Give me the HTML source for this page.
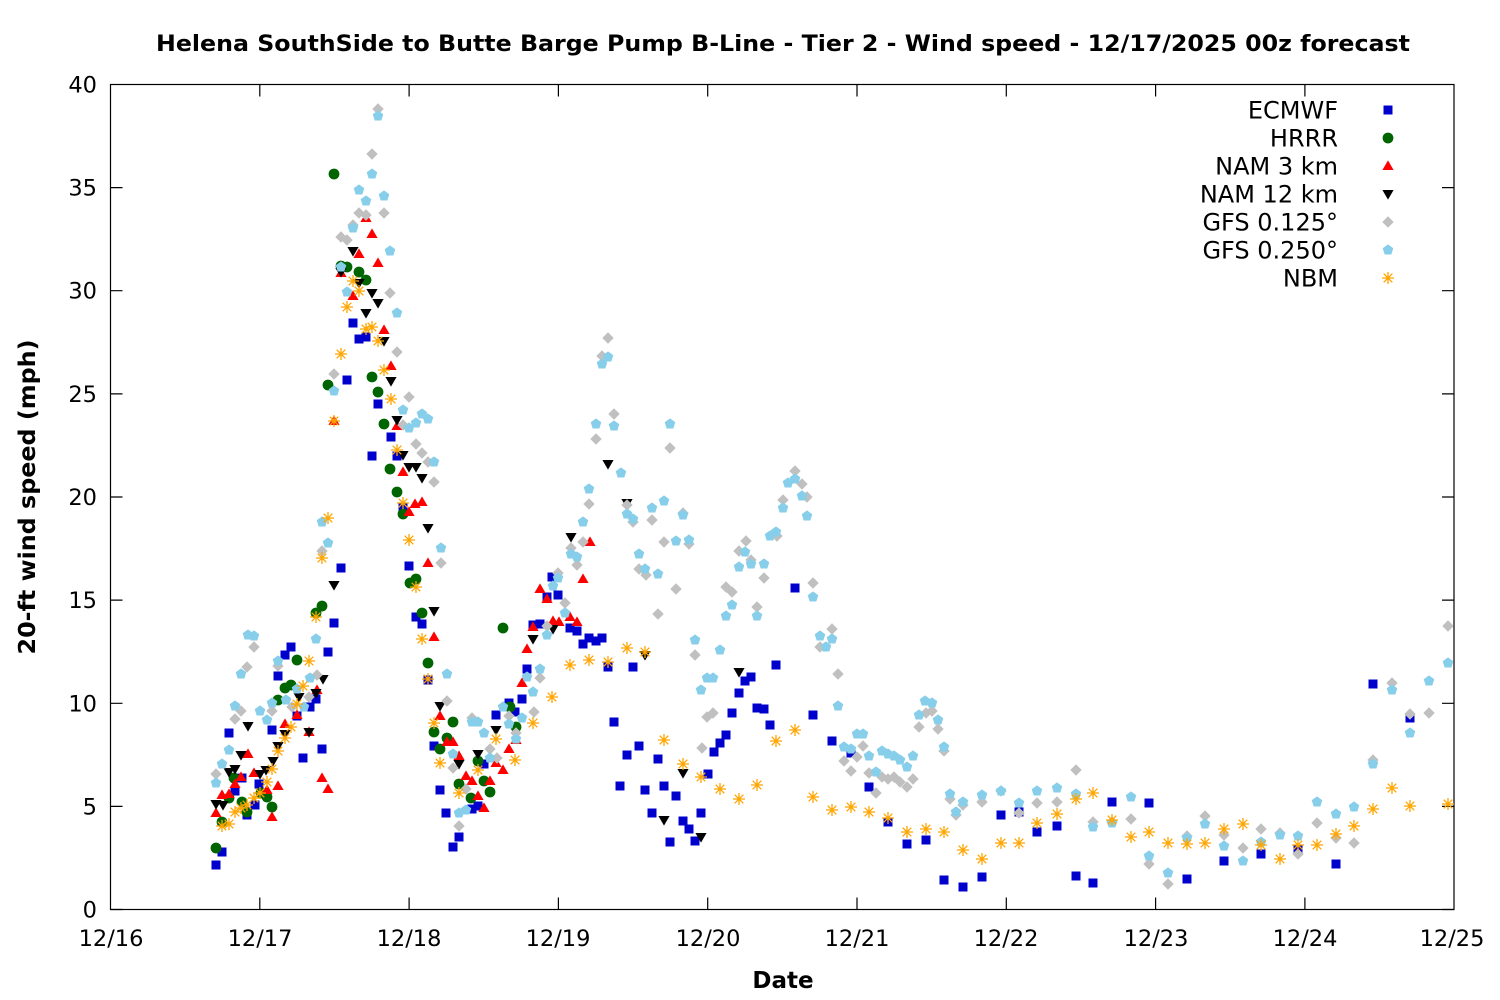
<!DOCTYPE html>
<html>
<head>
<meta charset="utf-8">
<style>
html,body{margin:0;padding:0;background:#fff;}
svg{display:block;}
text{font-family:"DejaVu Sans","Liberation Sans",sans-serif;fill:#000;}
</style>
</head>
<body>
<svg xmlns="http://www.w3.org/2000/svg" xmlns:xlink="http://www.w3.org/1999/xlink" width="1500" height="1000" viewBox="0 0 1500 1000">
<defs>
<rect id="b" x="-4.5" y="-4.5" width="9" height="9" fill="#0000cc"/>
<circle id="g" r="5.4" fill="#006400"/>
<path id="r" d="M0,-5.6 L5.6,4 L-5.6,4Z" fill="#ff0000"/>
<path id="k" d="M0,5.6 L5.6,-4 L-5.6,-4Z" fill="#000000"/>
<path id="d" d="M0,-5.7 L5.7,0 L0,5.7 L-5.7,0Z" fill="#c0c0c0"/>
<path id="p" d="M0,-5.6 L5.3,-1.7 L3.3,4.5 L-3.3,4.5 L-5.3,-1.7Z" fill="#87ceeb"/>
<g id="o" stroke="#ffa500" stroke-width="1.3" fill="none"><path d="M-6,0H6M0,-6V6M-4.3,-4.3L4.3,4.3M-4.3,4.3L4.3,-4.3"/></g>
</defs>
<rect width="1500" height="1000" fill="#fff"/>

<text x="783" y="51" text-anchor="middle" font-weight="bold" font-size="22.5" textLength="1254" lengthAdjust="spacingAndGlyphs">Helena SouthSide to Butte Barge Pump B-Line - Tier 2 - Wind speed - 12/17/2025 00z forecast</text>

<g stroke="#000" stroke-width="1.2">
<rect x="110.5" y="84.5" width="1343.5" height="825" fill="none"/>
<path d="M110.5,909.5h12M1454,909.5h-12M110.5,806.4h12M1454,806.4h-12M110.5,703.3h12M1454,703.3h-12M110.5,600.1h12M1454,600.1h-12M110.5,497h12M1454,497h-12M110.5,393.9h12M1454,393.9h-12M110.5,290.7h12M1454,290.7h-12M110.5,187.6h12M1454,187.6h-12"/>
<path d="M259.8,909.5v-12M259.8,84.5v12M409.1,909.5v-12M409.1,84.5v12M558.4,909.5v-12M558.4,84.5v12M707.7,909.5v-12M707.7,84.5v12M857,909.5v-12M857,84.5v12M1006.3,909.5v-12M1006.3,84.5v12M1155.6,909.5v-12M1155.6,84.5v12M1304.9,909.5v-12M1304.9,84.5v12"/>
</g>

<g font-size="22.5" text-anchor="end">
<text x="97" y="917.5">0</text>
<text x="97" y="814.4">5</text>
<text x="97" y="711.3">10</text>
<text x="97" y="608.1">15</text>
<text x="97" y="505">20</text>
<text x="97" y="401.9">25</text>
<text x="97" y="298.7">30</text>
<text x="97" y="195.6">35</text>
<text x="97" y="92.5">40</text>
</g>
<g font-size="22.5" text-anchor="middle">
<text x="111" y="946">12/16</text>
<text x="260" y="946">12/17</text>
<text x="409" y="946">12/18</text>
<text x="558" y="946">12/19</text>
<text x="708" y="946">12/20</text>
<text x="857" y="946">12/21</text>
<text x="1006" y="946">12/22</text>
<text x="1156" y="946">12/23</text>
<text x="1305" y="946">12/24</text>
<text x="1452" y="946">12/25</text>
</g>
<text x="783" y="988" text-anchor="middle" font-weight="bold" font-size="23">Date</text>
<text transform="translate(35,497) rotate(-90)" text-anchor="middle" font-weight="bold" font-size="23" textLength="315" lengthAdjust="spacingAndGlyphs">20-ft wind speed (mph)</text>

<!-- ECMWF -->
<g>
<use href="#b" x="216" y="865"/><use href="#b" x="222" y="852"/><use href="#b" x="229" y="733"/><use href="#b" x="235" y="791"/><use href="#b" x="242" y="778"/><use href="#b" x="247" y="815"/><use href="#b" x="255" y="805"/><use href="#b" x="259" y="784"/><use href="#b" x="272" y="730"/><use href="#b" x="278" y="676"/><use href="#b" x="285" y="655"/><use href="#b" x="291" y="647"/><use href="#b" x="297" y="716"/><use href="#b" x="303" y="758"/><use href="#b" x="310" y="707"/><use href="#b" x="316" y="699"/><use href="#b" x="322" y="749"/><use href="#b" x="328" y="652"/><use href="#b" x="334" y="623"/><use href="#b" x="341" y="568"/><use href="#b" x="347" y="380"/><use href="#b" x="353" y="323"/><use href="#b" x="359" y="339"/><use href="#b" x="366" y="337"/><use href="#b" x="372" y="456"/><use href="#b" x="378" y="404"/><use href="#b" x="391" y="437"/><use href="#b" x="397" y="456"/><use href="#b" x="403" y="507"/><use href="#b" x="409" y="566"/><use href="#b" x="416" y="617"/><use href="#b" x="422" y="624"/><use href="#b" x="428" y="680"/><use href="#b" x="434" y="746"/><use href="#b" x="440" y="790"/><use href="#b" x="446" y="813"/><use href="#b" x="453" y="847"/><use href="#b" x="459" y="837"/><use href="#b" x="472" y="809"/><use href="#b" x="478" y="806"/><use href="#b" x="484" y="764"/><use href="#b" x="496" y="715"/><use href="#b" x="509" y="703"/><use href="#b" x="515" y="712"/><use href="#b" x="522" y="699"/><use href="#b" x="527" y="669"/><use href="#b" x="533" y="625"/><use href="#b" x="540" y="624"/><use href="#b" x="547" y="597"/><use href="#b" x="552" y="577"/><use href="#b" x="558" y="595"/><use href="#b" x="570" y="628"/><use href="#b" x="577" y="631"/><use href="#b" x="583" y="644"/><use href="#b" x="589" y="638"/><use href="#b" x="596" y="641"/><use href="#b" x="602" y="638"/><use href="#b" x="608" y="667"/><use href="#b" x="614" y="722"/><use href="#b" x="620" y="786"/><use href="#b" x="627" y="755"/><use href="#b" x="633" y="667"/><use href="#b" x="639" y="746"/><use href="#b" x="645" y="790"/><use href="#b" x="652" y="813"/><use href="#b" x="658" y="759"/><use href="#b" x="664" y="786"/><use href="#b" x="670" y="842"/><use href="#b" x="676" y="796"/><use href="#b" x="683" y="821"/><use href="#b" x="689" y="829"/><use href="#b" x="695" y="841"/><use href="#b" x="701" y="813"/><use href="#b" x="708" y="774"/><use href="#b" x="714" y="752"/><use href="#b" x="720" y="743"/><use href="#b" x="726" y="735"/><use href="#b" x="732" y="713"/><use href="#b" x="739" y="693"/><use href="#b" x="745" y="681"/><use href="#b" x="751" y="677"/><use href="#b" x="757" y="708"/><use href="#b" x="764" y="709"/><use href="#b" x="770" y="725"/><use href="#b" x="776" y="665"/><use href="#b" x="795" y="588"/><use href="#b" x="813" y="715"/><use href="#b" x="832" y="741"/><use href="#b" x="851" y="753"/><use href="#b" x="869" y="787"/><use href="#b" x="888" y="822"/><use href="#b" x="907" y="844"/><use href="#b" x="926" y="840"/><use href="#b" x="944" y="880"/><use href="#b" x="963" y="887"/><use href="#b" x="982" y="877"/><use href="#b" x="1001" y="815"/><use href="#b" x="1019" y="812"/><use href="#b" x="1037" y="832"/><use href="#b" x="1057" y="826"/><use href="#b" x="1076" y="876"/><use href="#b" x="1093" y="883"/><use href="#b" x="1112" y="802"/><use href="#b" x="1149" y="803"/><use href="#b" x="1187" y="879"/><use href="#b" x="1224" y="861"/><use href="#b" x="1261" y="854"/><use href="#b" x="1298" y="850"/><use href="#b" x="1336" y="864"/><use href="#b" x="1373" y="684"/><use href="#b" x="1410" y="718"/>
</g>
<!-- HRRR -->
<g>
<use href="#g" x="216" y="848"/><use href="#g" x="222" y="822"/><use href="#g" x="229" y="798"/><use href="#g" x="234" y="778"/><use href="#g" x="242" y="802"/><use href="#g" x="247" y="812"/><use href="#g" x="261" y="793"/><use href="#g" x="267" y="797"/><use href="#g" x="272" y="807"/><use href="#g" x="278" y="700"/><use href="#g" x="285" y="688"/><use href="#g" x="291" y="685"/><use href="#g" x="297" y="660"/><use href="#g" x="316" y="613"/><use href="#g" x="322" y="606"/><use href="#g" x="328" y="385"/><use href="#g" x="334" y="174"/><use href="#g" x="341" y="266"/><use href="#g" x="347" y="267"/><use href="#g" x="359" y="272"/><use href="#g" x="366" y="280"/><use href="#g" x="372" y="377"/><use href="#g" x="378" y="392"/><use href="#g" x="384" y="424"/><use href="#g" x="390" y="469"/><use href="#g" x="397" y="492"/><use href="#g" x="403" y="514"/><use href="#g" x="410" y="583"/><use href="#g" x="416" y="579"/><use href="#g" x="422" y="613"/><use href="#g" x="428" y="663"/><use href="#g" x="434" y="732"/><use href="#g" x="440" y="749"/><use href="#g" x="447" y="738"/><use href="#g" x="453" y="722"/><use href="#g" x="459" y="784"/><use href="#g" x="471" y="798"/><use href="#g" x="478" y="761"/><use href="#g" x="484" y="781"/><use href="#g" x="490" y="792"/><use href="#g" x="503" y="628"/><use href="#g" x="510" y="707"/><use href="#g" x="516" y="727"/>
</g>
<!-- NAM 3 km -->
<g>
<use href="#r" x="216" y="813"/><use href="#r" x="222" y="795"/><use href="#r" x="229" y="794"/><use href="#r" x="235" y="784"/><use href="#r" x="241" y="777"/><use href="#r" x="248" y="754"/><use href="#r" x="254" y="773"/><use href="#r" x="267" y="790"/><use href="#r" x="272" y="817"/><use href="#r" x="278" y="786"/><use href="#r" x="285" y="724"/><use href="#r" x="297" y="715"/><use href="#r" x="309" y="732"/><use href="#r" x="317" y="690"/><use href="#r" x="322" y="778"/><use href="#r" x="328" y="789"/><use href="#r" x="334" y="421"/><use href="#r" x="341" y="273"/><use href="#r" x="353" y="296"/><use href="#r" x="359" y="254"/><use href="#r" x="366" y="218"/><use href="#r" x="372" y="234"/><use href="#r" x="378" y="263"/><use href="#r" x="384" y="330"/><use href="#r" x="391" y="366"/><use href="#r" x="397" y="426"/><use href="#r" x="403" y="472"/><use href="#r" x="409" y="512"/><use href="#r" x="415" y="504"/><use href="#r" x="422" y="502"/><use href="#r" x="428" y="563"/><use href="#r" x="434" y="637"/><use href="#r" x="440" y="716"/><use href="#r" x="447" y="742"/><use href="#r" x="453" y="742"/><use href="#r" x="459" y="756"/><use href="#r" x="466" y="776"/><use href="#r" x="472" y="781"/><use href="#r" x="478" y="796"/><use href="#r" x="484" y="808"/><use href="#r" x="490" y="781"/><use href="#r" x="496" y="763"/><use href="#r" x="503" y="770"/><use href="#r" x="509" y="749"/><use href="#r" x="516" y="740"/><use href="#r" x="522" y="683"/><use href="#r" x="527" y="649"/><use href="#r" x="533" y="627"/><use href="#r" x="540" y="589"/><use href="#r" x="547" y="599"/><use href="#r" x="553" y="621"/><use href="#r" x="559" y="622"/><use href="#r" x="570" y="617"/><use href="#r" x="577" y="622"/><use href="#r" x="583" y="579"/><use href="#r" x="590" y="542"/>
</g>
<!-- NAM 12 km -->
<g>
<use href="#k" x="216" y="804"/><use href="#k" x="223" y="805"/><use href="#k" x="229" y="772"/><use href="#k" x="235" y="769"/><use href="#k" x="241" y="755"/><use href="#k" x="248" y="726"/><use href="#k" x="260" y="774"/><use href="#k" x="266" y="770"/><use href="#k" x="273" y="761"/><use href="#k" x="278" y="746"/><use href="#k" x="285" y="734"/><use href="#k" x="299" y="697"/><use href="#k" x="309" y="732"/><use href="#k" x="316" y="693"/><use href="#k" x="323" y="679"/><use href="#k" x="334" y="585"/><use href="#k" x="341" y="272"/><use href="#k" x="353" y="251"/><use href="#k" x="359" y="283"/><use href="#k" x="366" y="313"/><use href="#k" x="372" y="293"/><use href="#k" x="378" y="303"/><use href="#k" x="384" y="341"/><use href="#k" x="391" y="381"/><use href="#k" x="397" y="420"/><use href="#k" x="403" y="455"/><use href="#k" x="409" y="467"/><use href="#k" x="416" y="467"/><use href="#k" x="422" y="478"/><use href="#k" x="428" y="528"/><use href="#k" x="434" y="611"/><use href="#k" x="440" y="706"/><use href="#k" x="459" y="764"/><use href="#k" x="478" y="754"/><use href="#k" x="496" y="730"/><use href="#k" x="533" y="639"/><use href="#k" x="553" y="629"/><use href="#k" x="571" y="537"/><use href="#k" x="608" y="464"/><use href="#k" x="627" y="503"/><use href="#k" x="645" y="655"/><use href="#k" x="664" y="820"/><use href="#k" x="683" y="773"/><use href="#k" x="701" y="837"/><use href="#k" x="739" y="672"/>
</g>
<!-- GFS 0.125 -->
<g>
<use href="#d" x="216" y="774"/><use href="#d" x="235" y="719"/><use href="#d" x="241" y="711"/><use href="#d" x="247" y="667"/><use href="#d" x="254" y="647"/><use href="#d" x="272" y="711"/><use href="#d" x="278" y="666"/><use href="#d" x="292" y="707"/><use href="#d" x="309" y="697"/><use href="#d" x="317" y="675"/><use href="#d" x="322" y="551"/><use href="#d" x="334" y="374"/><use href="#d" x="341" y="237"/><use href="#d" x="347" y="240"/><use href="#d" x="353" y="225"/><use href="#d" x="359" y="213"/><use href="#d" x="366" y="215"/><use href="#d" x="372" y="154"/><use href="#d" x="378" y="109"/><use href="#d" x="384" y="213"/><use href="#d" x="390" y="293"/><use href="#d" x="397" y="352"/><use href="#d" x="403" y="425"/><use href="#d" x="409" y="397"/><use href="#d" x="416" y="444"/><use href="#d" x="422" y="453"/><use href="#d" x="428" y="462"/><use href="#d" x="434" y="482"/><use href="#d" x="441" y="563"/><use href="#d" x="447" y="701"/><use href="#d" x="453" y="768"/><use href="#d" x="459" y="826"/><use href="#d" x="466" y="789"/><use href="#d" x="472" y="718"/><use href="#d" x="490" y="749"/><use href="#d" x="497" y="758"/><use href="#d" x="509" y="716"/><use href="#d" x="516" y="733"/><use href="#d" x="534" y="712"/><use href="#d" x="540" y="678"/><use href="#d" x="547" y="626"/><use href="#d" x="558" y="573"/><use href="#d" x="565" y="603"/><use href="#d" x="571" y="548"/><use href="#d" x="577" y="565"/><use href="#d" x="583" y="542"/><use href="#d" x="589" y="504"/><use href="#d" x="596" y="439"/><use href="#d" x="602" y="356"/><use href="#d" x="608" y="338"/><use href="#d" x="614" y="414"/><use href="#d" x="627" y="505"/><use href="#d" x="633" y="522"/><use href="#d" x="639" y="569"/><use href="#d" x="646" y="575"/><use href="#d" x="652" y="520"/><use href="#d" x="658" y="614"/><use href="#d" x="664" y="542"/><use href="#d" x="670" y="448"/><use href="#d" x="676" y="589"/><use href="#d" x="683" y="513"/><use href="#d" x="689" y="544"/><use href="#d" x="695" y="655"/><use href="#d" x="702" y="748"/><use href="#d" x="707" y="717"/><use href="#d" x="713" y="713"/><use href="#d" x="726" y="587"/><use href="#d" x="732" y="592"/><use href="#d" x="739" y="551"/><use href="#d" x="746" y="541"/><use href="#d" x="751" y="560"/><use href="#d" x="757" y="607"/><use href="#d" x="764" y="578"/><use href="#d" x="777" y="536"/><use href="#d" x="783" y="500"/><use href="#d" x="795" y="471"/><use href="#d" x="802" y="484"/><use href="#d" x="807" y="497"/><use href="#d" x="813" y="583"/><use href="#d" x="820" y="647"/><use href="#d" x="832" y="629"/><use href="#d" x="838" y="674"/><use href="#d" x="844" y="761"/><use href="#d" x="851" y="771"/><use href="#d" x="857" y="757"/><use href="#d" x="863" y="746"/><use href="#d" x="869" y="773"/><use href="#d" x="876" y="793"/><use href="#d" x="882" y="777"/><use href="#d" x="888" y="779"/><use href="#d" x="894" y="777"/><use href="#d" x="900" y="782"/><use href="#d" x="907" y="787"/><use href="#d" x="913" y="779"/><use href="#d" x="919" y="727"/><use href="#d" x="926" y="713"/><use href="#d" x="932" y="711"/><use href="#d" x="938" y="729"/><use href="#d" x="944" y="751"/><use href="#d" x="950" y="799"/><use href="#d" x="956" y="815"/><use href="#d" x="963" y="805"/><use href="#d" x="982" y="802"/><use href="#d" x="1001" y="791"/><use href="#d" x="1019" y="813"/><use href="#d" x="1037" y="803"/><use href="#d" x="1057" y="802"/><use href="#d" x="1076" y="770"/><use href="#d" x="1093" y="822"/><use href="#d" x="1112" y="822"/><use href="#d" x="1131" y="819"/><use href="#d" x="1149" y="864"/><use href="#d" x="1168" y="884"/><use href="#d" x="1187" y="836"/><use href="#d" x="1205" y="816"/><use href="#d" x="1224" y="835"/><use href="#d" x="1243" y="848"/><use href="#d" x="1261" y="829"/><use href="#d" x="1280" y="833"/><use href="#d" x="1298" y="854"/><use href="#d" x="1317" y="823"/><use href="#d" x="1336" y="838"/><use href="#d" x="1354" y="843"/><use href="#d" x="1373" y="760"/><use href="#d" x="1392" y="683"/><use href="#d" x="1410" y="714"/><use href="#d" x="1429" y="713"/><use href="#d" x="1448" y="626"/>
</g>
<!-- GFS 0.250 -->
<g>
<use href="#p" x="216" y="783"/><use href="#p" x="222" y="764"/><use href="#p" x="229" y="750"/><use href="#p" x="235" y="706"/><use href="#p" x="241" y="674"/><use href="#p" x="248" y="635"/><use href="#p" x="254" y="636"/><use href="#p" x="260" y="711"/><use href="#p" x="267" y="720"/><use href="#p" x="272" y="703"/><use href="#p" x="278" y="661"/><use href="#p" x="286" y="700"/><use href="#p" x="297" y="689"/><use href="#p" x="304" y="707"/><use href="#p" x="310" y="678"/><use href="#p" x="316" y="639"/><use href="#p" x="322" y="522"/><use href="#p" x="328" y="543"/><use href="#p" x="334" y="391"/><use href="#p" x="341" y="267"/><use href="#p" x="347" y="292"/><use href="#p" x="353" y="228"/><use href="#p" x="359" y="190"/><use href="#p" x="366" y="201"/><use href="#p" x="372" y="174"/><use href="#p" x="378" y="116"/><use href="#p" x="384" y="196"/><use href="#p" x="390" y="251"/><use href="#p" x="397" y="313"/><use href="#p" x="403" y="410"/><use href="#p" x="409" y="428"/><use href="#p" x="416" y="423"/><use href="#p" x="422" y="414"/><use href="#p" x="428" y="419"/><use href="#p" x="434" y="462"/><use href="#p" x="441" y="548"/><use href="#p" x="447" y="674"/><use href="#p" x="453" y="754"/><use href="#p" x="459" y="813"/><use href="#p" x="466" y="810"/><use href="#p" x="472" y="722"/><use href="#p" x="478" y="722"/><use href="#p" x="484" y="733"/><use href="#p" x="490" y="758"/><use href="#p" x="503" y="707"/><use href="#p" x="509" y="724"/><use href="#p" x="516" y="739"/><use href="#p" x="522" y="718"/><use href="#p" x="527" y="677"/><use href="#p" x="533" y="692"/><use href="#p" x="540" y="669"/><use href="#p" x="547" y="635"/><use href="#p" x="553" y="586"/><use href="#p" x="558" y="578"/><use href="#p" x="565" y="613"/><use href="#p" x="571" y="554"/><use href="#p" x="577" y="557"/><use href="#p" x="583" y="522"/><use href="#p" x="589" y="489"/><use href="#p" x="596" y="424"/><use href="#p" x="602" y="364"/><use href="#p" x="608" y="357"/><use href="#p" x="614" y="426"/><use href="#p" x="621" y="473"/><use href="#p" x="627" y="514"/><use href="#p" x="633" y="519"/><use href="#p" x="639" y="554"/><use href="#p" x="645" y="569"/><use href="#p" x="652" y="508"/><use href="#p" x="658" y="574"/><use href="#p" x="664" y="501"/><use href="#p" x="670" y="424"/><use href="#p" x="676" y="541"/><use href="#p" x="683" y="515"/><use href="#p" x="689" y="540"/><use href="#p" x="695" y="640"/><use href="#p" x="701" y="690"/><use href="#p" x="707" y="678"/><use href="#p" x="713" y="678"/><use href="#p" x="720" y="650"/><use href="#p" x="726" y="616"/><use href="#p" x="732" y="605"/><use href="#p" x="739" y="567"/><use href="#p" x="745" y="552"/><use href="#p" x="751" y="564"/><use href="#p" x="757" y="616"/><use href="#p" x="764" y="564"/><use href="#p" x="770" y="536"/><use href="#p" x="776" y="532"/><use href="#p" x="783" y="508"/><use href="#p" x="788" y="483"/><use href="#p" x="795" y="479"/><use href="#p" x="802" y="496"/><use href="#p" x="807" y="516"/><use href="#p" x="813" y="597"/><use href="#p" x="820" y="636"/><use href="#p" x="826" y="647"/><use href="#p" x="832" y="639"/><use href="#p" x="838" y="706"/><use href="#p" x="844" y="747"/><use href="#p" x="851" y="749"/><use href="#p" x="857" y="734"/><use href="#p" x="863" y="734"/><use href="#p" x="869" y="756"/><use href="#p" x="876" y="772"/><use href="#p" x="882" y="751"/><use href="#p" x="888" y="754"/><use href="#p" x="894" y="756"/><use href="#p" x="900" y="760"/><use href="#p" x="907" y="767"/><use href="#p" x="913" y="756"/><use href="#p" x="919" y="715"/><use href="#p" x="925" y="701"/><use href="#p" x="932" y="703"/><use href="#p" x="938" y="720"/><use href="#p" x="944" y="747"/><use href="#p" x="950" y="794"/><use href="#p" x="956" y="812"/><use href="#p" x="963" y="802"/><use href="#p" x="982" y="795"/><use href="#p" x="1001" y="791"/><use href="#p" x="1019" y="803"/><use href="#p" x="1037" y="791"/><use href="#p" x="1057" y="788"/><use href="#p" x="1076" y="794"/><use href="#p" x="1093" y="827"/><use href="#p" x="1112" y="823"/><use href="#p" x="1131" y="797"/><use href="#p" x="1149" y="856"/><use href="#p" x="1168" y="873"/><use href="#p" x="1187" y="838"/><use href="#p" x="1205" y="824"/><use href="#p" x="1224" y="846"/><use href="#p" x="1243" y="861"/><use href="#p" x="1261" y="842"/><use href="#p" x="1280" y="835"/><use href="#p" x="1298" y="836"/><use href="#p" x="1317" y="802"/><use href="#p" x="1336" y="814"/><use href="#p" x="1354" y="807"/><use href="#p" x="1373" y="764"/><use href="#p" x="1392" y="690"/><use href="#p" x="1410" y="733"/><use href="#p" x="1429" y="681"/><use href="#p" x="1448" y="663"/>
</g>
<!-- NBM -->
<g>
<use href="#o" x="222" y="826"/><use href="#o" x="229" y="824"/><use href="#o" x="235" y="812"/><use href="#o" x="241" y="808"/><use href="#o" x="247" y="805"/><use href="#o" x="254" y="798"/><use href="#o" x="260" y="793"/><use href="#o" x="267" y="782"/><use href="#o" x="272" y="769"/><use href="#o" x="278" y="751"/><use href="#o" x="285" y="738"/><use href="#o" x="291" y="727"/><use href="#o" x="297" y="704"/><use href="#o" x="303" y="686"/><use href="#o" x="309" y="661"/><use href="#o" x="316" y="617"/><use href="#o" x="322" y="558"/><use href="#o" x="328" y="518"/><use href="#o" x="334" y="421"/><use href="#o" x="341" y="354"/><use href="#o" x="347" y="307"/><use href="#o" x="353" y="281"/><use href="#o" x="359" y="291"/><use href="#o" x="366" y="329"/><use href="#o" x="372" y="327"/><use href="#o" x="378" y="341"/><use href="#o" x="384" y="370"/><use href="#o" x="391" y="399"/><use href="#o" x="397" y="450"/><use href="#o" x="403" y="503"/><use href="#o" x="409" y="540"/><use href="#o" x="416" y="587"/><use href="#o" x="422" y="639"/><use href="#o" x="428" y="679"/><use href="#o" x="434" y="723"/><use href="#o" x="440" y="763"/><use href="#o" x="459" y="793"/><use href="#o" x="478" y="770"/><use href="#o" x="496" y="739"/><use href="#o" x="515" y="760"/><use href="#o" x="533" y="723"/><use href="#o" x="552" y="697"/><use href="#o" x="570" y="665"/><use href="#o" x="589" y="660"/><use href="#o" x="608" y="662"/><use href="#o" x="627" y="648"/><use href="#o" x="645" y="652"/><use href="#o" x="664" y="740"/><use href="#o" x="683" y="764"/><use href="#o" x="701" y="777"/><use href="#o" x="720" y="789"/><use href="#o" x="739" y="799"/><use href="#o" x="757" y="785"/><use href="#o" x="776" y="741"/><use href="#o" x="795" y="730"/><use href="#o" x="813" y="797"/><use href="#o" x="832" y="810"/><use href="#o" x="851" y="807"/><use href="#o" x="869" y="812"/><use href="#o" x="888" y="818"/><use href="#o" x="907" y="832"/><use href="#o" x="926" y="829"/><use href="#o" x="944" y="832"/><use href="#o" x="963" y="850"/><use href="#o" x="982" y="859"/><use href="#o" x="1001" y="843"/><use href="#o" x="1019" y="843"/><use href="#o" x="1037" y="823"/><use href="#o" x="1057" y="814"/><use href="#o" x="1076" y="799"/><use href="#o" x="1093" y="793"/><use href="#o" x="1112" y="820"/><use href="#o" x="1131" y="837"/><use href="#o" x="1149" y="832"/><use href="#o" x="1168" y="843"/><use href="#o" x="1187" y="844"/><use href="#o" x="1205" y="843"/><use href="#o" x="1224" y="829"/><use href="#o" x="1243" y="824"/><use href="#o" x="1261" y="845"/><use href="#o" x="1280" y="859"/><use href="#o" x="1298" y="845"/><use href="#o" x="1317" y="845"/><use href="#o" x="1336" y="834"/><use href="#o" x="1354" y="826"/><use href="#o" x="1373" y="809"/><use href="#o" x="1392" y="788"/><use href="#o" x="1410" y="806"/><use href="#o" x="1448" y="804"/>
</g>

<!-- Legend -->
<g font-size="24" text-anchor="end">
<text x="1338" y="118.5">ECMWF</text>
<text x="1338" y="146.5">HRRR</text>
<text x="1338" y="174.5">NAM 3 km</text>
<text x="1338" y="202.5">NAM 12 km</text>
<text x="1338" y="230.5">GFS 0.125°</text>
<text x="1338" y="258.5">GFS 0.250°</text>
<text x="1338" y="286.5">NBM</text>
</g>
<use href="#b" x="1388" y="110"/>
<use href="#g" x="1388" y="138"/>
<use href="#r" x="1388" y="166"/>
<use href="#k" x="1388" y="194"/>
<use href="#d" x="1388" y="222"/>
<use href="#p" x="1388" y="250"/>
<use href="#o" x="1388" y="278"/>
</svg>
</body>
</html>
